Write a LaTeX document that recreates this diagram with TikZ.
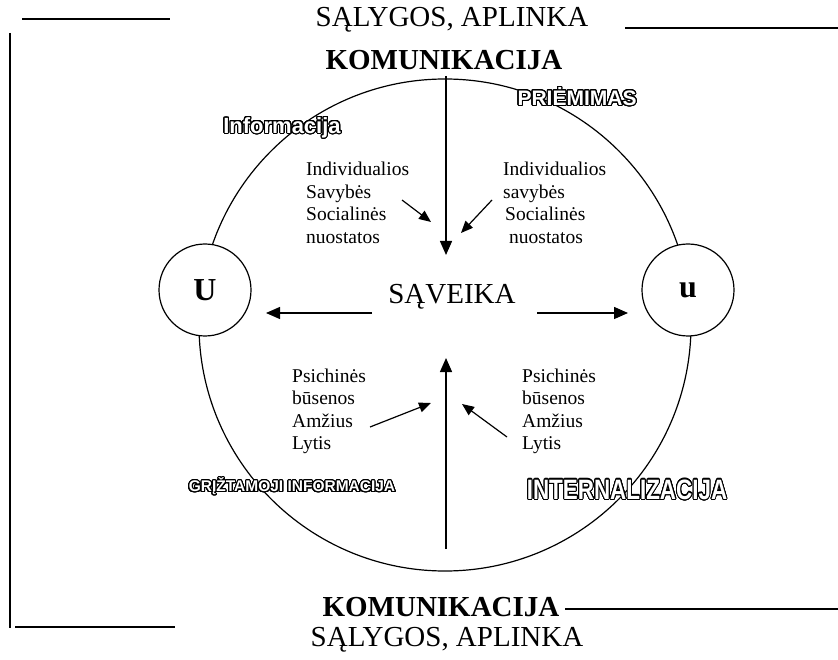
\documentclass[tikz,border=0pt]{standalone}
\usepackage{fontspec}
\setmainfont{Liberation Serif}
\newfontfamily\labelfont{Liberation Sans}
\usepackage{graphicx}
\usepackage[copies]{contour}
\contourlength{1.1pt}
\contournumber{32}
\usetikzlibrary{arrows.meta}
\newcommand{\hollowtext}[1]{\contour{black}{\textcolor{white}{#1}}}

\begin{document}
\begin{tikzpicture}[x=1pt,y=-1pt]
    \tikzset{
        title/.style={font=\fontsize{29}{34}\selectfont},
        titlebold/.style={font=\fontsize{29}{34}\selectfont\bfseries},
        factors/.style={font=\fontsize{19.5}{22.6}\selectfont, align=left, anchor=north west, inner sep=0pt},
        hollow/.style={font=\labelfont\bfseries\fontsize{#1}{#1}\selectfont, inner sep=0pt},
        party/.style={draw, circle, fill=white, line width=1.2pt, minimum size=92pt, inner sep=0pt, font=\fontsize{32}{36}\selectfont\bfseries},
        flow/.style={line width=1.4pt, -{Triangle[length=14pt,width=12pt]}},
        hint/.style={line width=1.2pt, -{Triangle[length=12pt,width=10pt]}},
        frame/.style={line width=1.2pt}
    }
    \useasboundingbox (0,0) rectangle (838,660);

    \node[title] (saltop) at (452,20) {SĄLYGOS, APLINKA};
    \node[titlebold] (komtop) at (444,60) {KOMUNIKACIJA};
    \node[titlebold] (kombot) at (441,607) {KOMUNIKACIJA};
    \node[title] (salbot) at (447,640) {SĄLYGOS, APLINKA};

    \draw[frame] (22,19) -- (170,19);
    \draw[frame] (625,28) -- (838,28);
    \draw[frame] (10,33) -- (10,628);
    \draw[frame] (15,627) -- (175,627);
    \draw[frame] (565,609) -- (838,609);

    \node[draw, circle, line width=1.2pt, minimum size=492pt] (ring) at (445,325) {};
    \node[party] (U) at (205,290) {U};
    \node[party] (u) at (688,290) {u};

    \node[hollow=22] (info) at (282,128) {\hollowtext{Informacija}};
    \node[hollow=21] (priem) at (577,97) {\hollowtext{PRIĖMIMAS}};
    \node[hollow=15.5] (griz) at (292,487) {\hollowtext{GRĮŽTAMOJI INFORMACIJA}};
    \node[hollow=28] (intern) at (627,490) {\scalebox{0.8}[1]{\hollowtext{INTERNALIZACIJA}}};

    \node[title] (sav) at (452,297) {SĄVEIKA};

    \node[factors] (indl) at (306,161.7) {Individualios\\Savybės\\Socialinės\\nuostatos};
    \node[factors] (indr) at (503,161.7) {Individualios\\savybės\\\hspace{2pt}Socialinės\\\hspace{6pt}nuostatos};
    \node[factors] (psyl) at (292,368.4) {Psichinės\\būsenos\\Amžius\\Lytis};
    \node[factors] (psyr) at (522,368.4) {Psichinės\\būsenos\\Amžius\\Lytis};

    \coordinate (downstart) at (446,76);
    \coordinate (downend) at (446,255);
    \coordinate (upstart) at (446,549);
    \coordinate (upend) at (446,358);
    \coordinate (leftstart) at (372,313);
    \coordinate (leftend) at (266,313);
    \coordinate (rightstart) at (537,313);
    \coordinate (rightend) at (628,313);
    \coordinate (hintA) at (402,200);
    \coordinate (hintAend) at (431,222);
    \coordinate (hintB) at (492,200);
    \coordinate (hintBend) at (461,233);
    \coordinate (hintC) at (370,427);
    \coordinate (hintCend) at (431,403);
    \coordinate (hintD) at (507,437);
    \coordinate (hintDend) at (462,404);

    \draw[flow] (downstart) -- (downend);
    \draw[flow] (upstart) -- (upend);
    \draw[flow] (leftstart) -- (leftend);
    \draw[flow] (rightstart) -- (rightend);
    \draw[hint] (hintA) -- (hintAend);
    \draw[hint] (hintB) -- (hintBend);
    \draw[hint] (hintC) -- (hintCend);
    \draw[hint] (hintD) -- (hintDend);
\end{tikzpicture}
\end{document}
